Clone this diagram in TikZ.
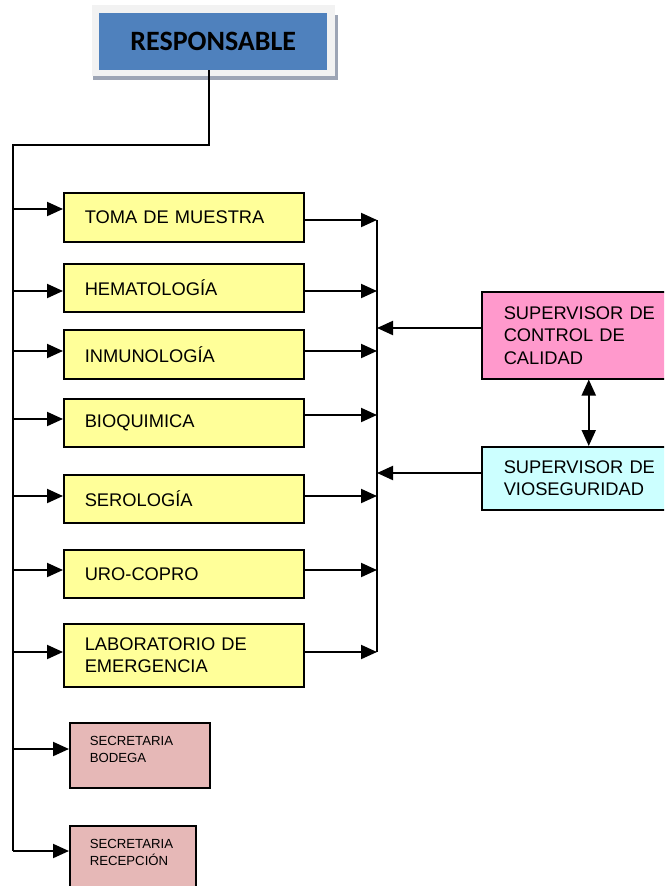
\documentclass[tikz,border=0pt]{standalone}
\usepackage{fontspec}
\setmainfont{Liberation Sans}
\newfontfamily\headfont{Carlito}
\usetikzlibrary{arrows.meta}
\definecolor{headblue}{HTML}{4F81BD}
\definecolor{headframe}{HTML}{F2F2F2}
\definecolor{headshadow}{HTML}{9DA5B5}
\definecolor{areayellow}{HTML}{FFFF99}
\definecolor{qcpink}{HTML}{FF99CC}
\definecolor{biocyan}{HTML}{CCFFFF}
\definecolor{secrose}{HTML}{E6B8B7}
\tikzset{
  link/.style={line width=2pt},
  arrow/.style={line width=2pt, -{Triangle[length=16pt,width=14pt]}},
  dblarrow/.style={line width=2pt, {Triangle[length=16pt,width=14pt]}-{Triangle[length=16pt,width=14pt]}},
  area/.style={draw=black, line width=1.5pt, fill=areayellow, anchor=north west, minimum height=49pt,
    text width=198pt, inner xsep=21pt, align=left, font=\fontsize{18.3}{22.5}\selectfont},
  supbox/.style={draw=black, line width=1.5pt, anchor=north west, text width=170pt, inner xsep=22pt,
    align=left, font=\fontsize{18.3}{22.5}\selectfont},
  secbox/.style={draw=black, line width=1.5pt, fill=secrose, anchor=north west, minimum height=65pt,
    inner xsep=20pt, align=left, font=\fontsize{13.2}{16.5}\selectfont}
}
\begin{document}
\begin{tikzpicture}[x=1pt,y=-1pt]
  \useasboundingbox (0,0) rectangle (664,886);
  \clip (0,0) rectangle (664,886);

  % head box
  \fill[headshadow] (93,15) rectangle (338,80);
  \fill[headframe] (92,5) rectangle (335,76);
  \node[fill=headblue, anchor=north west, minimum width=228pt, minimum height=57pt,
    font=\headfont\bfseries\fontsize{28}{30}\selectfont] (resp) at (99,13) {RESPONSABLE};

  % areas
  \node[area] (toma) at (63,192) {TOMA DE MUESTRA};
  \node[area, minimum height=48pt] (hema) at (63,263) {HEMATOLOGÍA};
  \node[area] (inmu) at (63,329) {INMUNOLOGÍA};
  \node[area, minimum height=48pt] (bioq) at (63,398) {BIOQUIMICA};
  \node[area, minimum height=48pt] (sero) at (63,474) {SEROLOGÍA};
  \node[area, minimum height=48pt] (uro) at (63,549) {URO-COPRO};
  \node[area, minimum height=63pt] (lab) at (63,623) {LABORATORIO DE\\EMERGENCIA};

  \node[secbox, text width=100pt] (bodega) at (69,722) {SECRETARIA\\BODEGA\\[-5pt]\mbox{}};
  \node[secbox, text width=86pt] (recep) at (69,825) {SECRETARIA\\RECEPCIÓN\\[-5pt]\mbox{}};

  % supervisors
  \node[supbox, fill=qcpink, minimum height=87pt] (calidad) at (481,291) {SUPERVISOR DE\\CONTROL DE\\CALIDAD};
  \node[supbox, fill=biocyan, minimum height=63pt] (vio) at (481,446) {SUPERVISOR DE\\VIOSEGURIDAD};

  % trunk
  \coordinate (drop) at (209,145);
  \coordinate (corner) at (13,145);
  \coordinate (foot) at (13,851);
  \draw[link] (resp.south -| drop) -- (drop) -- (corner) -- (foot);

  \coordinate (in1) at (13,209);
  \coordinate (in2) at (13,291);
  \coordinate (in3) at (13,351);
  \coordinate (in4) at (13,419);
  \coordinate (in5) at (13,496);
  \coordinate (in6) at (13,570);
  \coordinate (in7) at (13,652);
  \coordinate (in8) at (13,749);
  \draw[arrow] (in1) -- (in1 -| toma.west);
  \draw[arrow] (in2) -- (in2 -| hema.west);
  \draw[arrow] (in3) -- (in3 -| inmu.west);
  \draw[arrow] (in4) -- (in4 -| bioq.west);
  \draw[arrow] (in5) -- (in5 -| sero.west);
  \draw[arrow] (in6) -- (in6 -| uro.west);
  \draw[arrow] (in7) -- (in7 -| lab.west);
  \draw[arrow] (in8) -- (in8 -| bodega.west);
  \draw[arrow] (foot) -- (foot -| recep.west);

  % right collector
  \coordinate (join1) at (377,220);
  \coordinate (join2) at (377,291);
  \coordinate (join3) at (377,351);
  \coordinate (join4) at (377,415);
  \coordinate (join5) at (377,496);
  \coordinate (join6) at (377,570);
  \coordinate (join7) at (377,652);
  \draw[link] (join1) -- (join7);
  \draw[arrow] (join1 -| toma.east) -- (join1);
  \draw[arrow] (join2 -| hema.east) -- (join2);
  \draw[arrow] (join3 -| inmu.east) -- (join3);
  \draw[arrow] (join4 -| bioq.east) -- (join4);
  \draw[arrow] (join5 -| sero.east) -- (join5);
  \draw[arrow] (join6 -| uro.east) -- (join6);
  \draw[arrow] (join7 -| lab.east) -- (join7);

  \coordinate (qcin) at (377,328);
  \coordinate (bioin) at (377,473);
  \draw[arrow] (qcin -| calidad.west) -- (qcin);
  \draw[arrow] (bioin -| vio.west) -- (bioin);
  \draw[dblarrow] (calidad.south) -- (vio.north);
\end{tikzpicture}
\end{document}
